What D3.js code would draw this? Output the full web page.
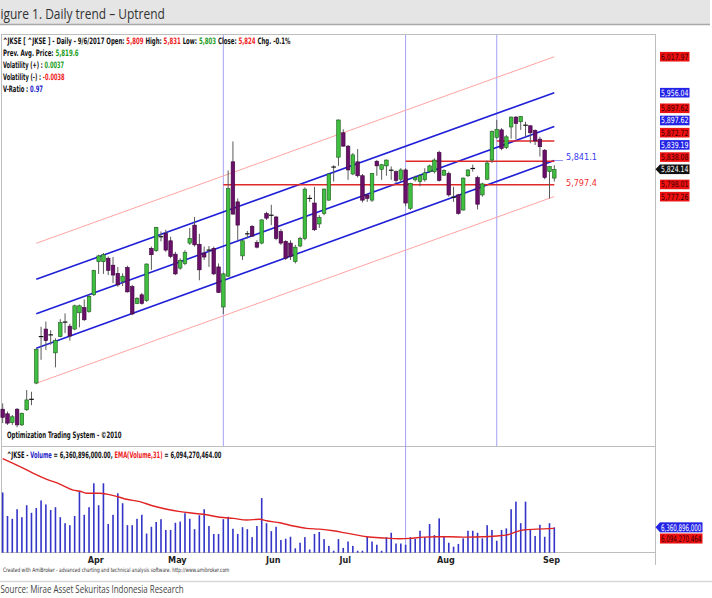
<!DOCTYPE html>
<html>
<head>
<meta charset="utf-8">
<script src="https://d3js.org/d3.v7.min.js"></script>
<style>
body { margin: 0; background: #fff; }
svg { display: block; }
</style>
</head>
<body>
<svg id="chart" width="712" height="598"></svg>
<script>

// daily candles, ^JKSE, early March -> 6 Sep 2017
var opens  = [5411,5403,5388,5411,5384,5410,5429,5456,5535,5549,5538,5508,5536,5560,5554,5549,5577,5586,5579,5608,
              5665,5665,5671,5659,5645,5631,5655,5622,5593,5608,5598,5688,5684,5707,5714,5701,5678,5654,5662,5697,
              5728,5695,5680,5684,5688,5656,5587,5640,5837,5768,5675,5712,5726,5698,5697,5748,5744,5742,5717,5700,
              5697,5665,5692,5705,5773,5766,5730,5748,5771,5827,5845,5887,5864,5816,5837,5813,5780,5771,5838,5824,
              5830,5823,5820,5807,5823,5757,5806,5803,5806,5820,5820,5853,5814,5817,5777,5780,5754,5813,5825,5810,
              5780,5807,5840,5879,5892,5862,5897,5914,5906,5901,5899,5891,5876,5857,5820,5809];
var highs  = [5421,5407,5401,5413,5405,5444,5441,5516,5553,5562,5547,5533,5566,5576,5558,5591,5591,5600,5609,5651,
              5677,5680,5674,5673,5656,5645,5658,5625,5604,5611,5662,5691,5725,5717,5720,5708,5682,5671,5685,5723,
              5742,5713,5691,5692,5691,5662,5646,5822,5872,5774,5702,5718,5728,5702,5738,5751,5763,5744,5721,5702,
              5702,5694,5708,5793,5780,5794,5745,5791,5817,5831,5910,5893,5866,5852,5859,5816,5782,5818,5840,5833,
              5841,5829,5822,5826,5826,5801,5813,5816,5826,5832,5843,5856,5824,5820,5794,5782,5810,5824,5832,5813,
              5801,5839,5891,5909,5895,5883,5915,5916,5916,5906,5900,5893,5880,5859,5830,5831];
var lows   = [5387,5384,5384,5380,5382,5408,5418,5454,5496,5513,5522,5483,5535,5542,5529,5547,5552,5563,5577,5606,
              5644,5644,5642,5628,5622,5623,5612,5573,5592,5591,5596,5651,5682,5700,5682,5671,5642,5651,5659,5694,
              5691,5633,5668,5656,5642,5611,5575,5639,5746,5702,5668,5705,5708,5688,5695,5737,5728,5702,5694,5668,
              5668,5662,5690,5702,5768,5718,5723,5745,5770,5803,5830,5863,5806,5814,5810,5767,5768,5768,5813,5806,
              5813,5806,5800,5803,5761,5754,5803,5795,5803,5818,5817,5803,5813,5777,5768,5746,5753,5811,5820,5755,
              5777,5806,5835,5877,5857,5859,5877,5876,5892,5880,5869,5866,5846,5807,5774,5803];
var closes = [5397,5387,5398,5384,5404,5427,5427,5514,5537,5529,5540,5529,5560,5562,5537,5589,5589,5565,5605,5650,
              5675,5677,5650,5642,5625,5640,5613,5575,5602,5593,5661,5677,5724,5709,5685,5674,5644,5667,5681,5705,
              5694,5651,5673,5686,5644,5612,5644,5791,5747,5728,5701,5714,5709,5690,5737,5740,5746,5705,5697,5671,
              5674,5690,5705,5790,5775,5720,5741,5790,5816,5829,5909,5864,5823,5849,5813,5771,5774,5817,5830,5832,
              5840,5822,5805,5823,5766,5800,5810,5813,5818,5830,5840,5805,5822,5780,5775,5748,5809,5823,5826,5764,
              5799,5835,5889,5893,5860,5880,5914,5903,5915,5899,5887,5873,5863,5810,5829,5824];

// volume, billions of shares
var volumes = [15.1,9.2,8.5,10.9,8.9,11.9,10.0,11.2,13.1,12.1,10.7,11.4,8.9,7.4,6.9,9.2,15.4,9.5,11.4,17.4,
               11.9,17.4,7.2,9.5,14.9,12.4,6.9,6.9,8.5,9.5,4.8,6.5,7.7,8.4,5.7,5.7,7.5,7.8,9.9,8.5,
               5.9,9.4,10.9,6.7,4.7,4.7,8.4,9.0,6.0,4.7,6.4,5.9,3.9,6.7,13.7,7.4,5.4,6.5,3.2,3.5,
               4.0,1.1,2.5,3.9,0.8,4.7,5.2,3.4,1.7,0.5,3.4,1.2,2.8,1.7,0.5,0.5,4.0,2.8,2.0,0.5,
               3.9,5.0,2.3,2.3,2.0,3.9,3.5,5.5,3.9,7.2,4.4,8.6,4.2,2.5,1.5,2.2,3.6,5.5,5.5,5.0,
               3.6,6.9,5.7,3.0,5.7,6.1,10.9,12.8,7.4,12.8,5.9,4.2,7.0,4.0,7.4,6.36];

// EMA(Volume,31), sampled along the red line
var emaIdx = [0,3.6,6.4,9.2,11.9,14.7,16.1,17.5,20.3,21.7,23.8,25.8,28.6,31.4,34.2,37,39.7,42.5,45.3,48.1,
              50.9,53.6,55,57.8,60.6,63.4,66.1,68.9,71.7,75.9,79.3,82.8,84.9,87.7,90.5,93.2,96.7,100.2,103,105,
              107.2,108.5,111.3,115];
var emaVal = [23.6,21.6,19.9,18.4,17.2,15.7,15.4,14.9,14.9,14.7,14.1,13.4,12.8,11.7,10.9,10.3,9.9,9.5,8.9,8.6,
              8.2,8.4,8.0,7.5,6.7,6.1,5.9,5.5,4.9,4.0,3.7,3.5,3.6,3.9,4.0,4.0,3.9,4.0,4.2,4.4,
              5.3,5.7,5.9,6.09];

var monthLabels = ['Apr','May','Jun','Jul','Aug','Sep'];
var monthIdx = [19,36,56,71,92,114];

// regression channel: upper 2sd, upper 1sd, mid, lower 1sd, lower 2sd
var chanStartIdx = 7, chanEndIdx = 115;
var chanStart = [5696.7,5634.7,5575.5,5515.9,5455.6];
var chanEnd   = [6017.97,5956.04,5897.62,5839.19,5777.26];
var chanKind  = ['outer','inner','inner','inner','outer'];

var levelPrice = [5797.4,5838.08,5872.72];
var levelFrom  = [46,84,103];
var markerIdx  = [46,84,103];

var axisValues = [6017.97,5956.04,5897.62,5897.62,5872.72,5839.19,5838.08,5824.14,5798.01,5777.26];
var axisKinds  = ['red','blue','red','blue','red','blue','red','last','red','red'];
var volLabelValues = [6.360896,6.094270464];
var volLabelText = ['6,360,896,000','6,094,270,464'];

var svg = d3.select('#chart');
var narrow = '"Liberation Sans Narrow","DejaVu Sans Condensed","Liberation Sans",Arial,sans-serif';
var RED = '#ee1d1d', GREEN = '#1f9e1f', BLUE = '#2424c8';

var n = closes.length;
var x = d3.scaleLinear().domain([0, 115]).range([2.7, 554.3]);
var y = d3.scaleLinear().domain([5345.9, 6057.1]).range([447, 34]);
var yv = d3.scaleLinear().domain([0, 26.5]).range([552.7, 447]);

// squeeze text horizontally to a measured span
function fit(t, x0, x1) {
  var w = t.node().getBBox().width;
  t.attr('x', 0).attr('transform', 'translate(' + x0 + ',0) scale(' + ((x1 - x0) / w) + ',1)');
  return t;
}
function multi(parts, x0, x1, yb, size, weight) {
  var t = svg.append('text').attr('y', yb)
    .style('font-family', narrow).style('font-size', size + 'px').style('font-weight', weight || 'bold');
  parts.forEach(function(p) { t.append('tspan').attr('fill', p[1]).text(p[0]); });
  return fit(t, x0, x1);
}

// title bar (the page this came from crops the leading "F")
svg.append('rect').attr('x', 0).attr('y', 0).attr('width', 710).attr('height', 24).attr('fill', '#e5e5e5');
svg.append('line').attr('x1', 0).attr('x2', 710).attr('y1', 24.5).attr('y2', 24.5).attr('stroke', '#a8a8a8').attr('stroke-width', 1.6);
var title = svg.append('text').attr('y', 19.5).attr('fill', '#333')
  .style('font-family', '"Open Sans","Noto Sans",sans-serif').style('font-size', '14.5px')
  .text('igure 1. Daily trend \u2013 Uptrend');
fit(title, 0.5, 165);

// frame
var frame = svg.append('g').attr('stroke', '#bdbdbd').attr('stroke-width', 1).attr('fill', 'none');
frame.append('line').attr('x1', 1).attr('x2', 655.5).attr('y1', 34.5).attr('y2', 34.5);
frame.append('line').attr('x1', 1.5).attr('x2', 1.5).attr('y1', 34).attr('y2', 553);
frame.append('line').attr('x1', 655.5).attr('x2', 655.5).attr('y1', 34).attr('y2', 565);
frame.append('line').attr('x1', 1).attr('x2', 655.5).attr('y1', 446.5).attr('y2', 446.5);
frame.append('line').attr('x1', 1).attr('x2', 655.5).attr('y1', 552.5).attr('y2', 552.5);

// vertical markers
markerIdx.forEach(function(m, k) {
  svg.append('line').attr('x1', x(m)).attr('x2', x(m))
    .attr('y1', 35).attr('y2', k == 1 ? 552 : 446)
    .attr('stroke', '#8c8cf0').attr('stroke-width', 0.8);
});

// channel
chanStart.forEach(function(s, k) {
  svg.append('line')
    .attr('x1', x(chanStartIdx)).attr('y1', y(s))
    .attr('x2', x(chanEndIdx)).attr('y2', y(chanEnd[k]))
    .attr('stroke', chanKind[k] == 'outer' ? '#ff9a9a' : '#2020d8')
    .attr('stroke-width', chanKind[k] == 'outer' ? 0.9 : 1.6);
});
svg.append('line').attr('x1', x(chanEndIdx)).attr('x2', 563).attr('y1', y(chanEnd[3])).attr('y2', y(chanEnd[3]))
  .attr('stroke', '#7a7af0').attr('stroke-width', 0.8);

// support / resistance levels
levelPrice.forEach(function(p, k) {
  svg.append('line').attr('x1', x(levelFrom[k])).attr('x2', x(115))
    .attr('y1', y(p)).attr('y2', y(p)).attr('stroke', '#e02828').attr('stroke-width', 1.6);
});

// candles
var candles = d3.range(n).map(function(i) {
  return {i: i, o: opens[i], h: highs[i], l: lows[i], c: closes[i]};
});
var cg = svg.append('g');
cg.selectAll('line.wick').data(candles).enter().append('line')
  .attr('x1', function(d) { return x(d.i); }).attr('x2', function(d) { return x(d.i); })
  .attr('y1', function(d) { return y(d.h); }).attr('y2', function(d) { return y(d.l); })
  .attr('stroke', '#5a5a5a').attr('stroke-width', 1);
cg.selectAll('rect.body').data(candles.filter(function(d) { return Math.abs(d.o - d.c) > 2.5; })).enter().append('rect')
  .attr('x', function(d) { return x(d.i) - 1.8; }).attr('width', 3.6)
  .attr('y', function(d) { return y(Math.max(d.o, d.c)); })
  .attr('height', function(d) { return Math.abs(y(d.o) - y(d.c)); })
  .attr('fill', function(d) { return d.c > d.o ? '#3fbf3f' : '#6a0f6a'; })
  .attr('stroke', function(d) { return d.c > d.o ? '#1f5a1f' : '#3a053a'; })
  .attr('stroke-width', 0.6);
cg.selectAll('line.doji').data(candles.filter(function(d) { return Math.abs(d.o - d.c) <= 2.5; })).enter().append('line')
  .attr('x1', function(d) { return x(d.i) - 2.3; }).attr('x2', function(d) { return x(d.i) + 2.3; })
  .attr('y1', function(d) { return y((d.o + d.c) / 2); }).attr('y2', function(d) { return y((d.o + d.c) / 2); })
  .attr('stroke', '#111').attr('stroke-width', 1.2);

// level captions
svg.append('text').attr('x', 566).attr('y', y(5841.1) + 1).attr('fill', '#3a3af0')
  .style('font-family', narrow).style('font-size', '9px').text('5,841.1');
svg.append('text').attr('x', 566).attr('y', y(5797.4) + 1).attr('fill', '#f03030')
  .style('font-family', narrow).style('font-size', '9px').text('5,797.4');

// right-hand value tags, pushed apart around the last price
var tagY = axisValues.map(function(v) { return y(v); });
var last = axisKinds.indexOf('last');
for (var k = last - 1; k >= 0; k--) tagY[k] = Math.min(tagY[k], tagY[k + 1] - 12.2);
for (var k = last + 1; k < tagY.length; k++) tagY[k] = Math.max(tagY[k], tagY[k - 1] + 12.2);
var fills = {red: '#ee1111', blue: '#2323e6', last: '#111'};
var inks = {red: '#3a0000', blue: '#fff', last: '#fff'};
axisValues.forEach(function(v, k) {
  var kind = axisKinds[k];
  svg.append('rect').attr('x', 660).attr('y', tagY[k] - 4.8).attr('width', 29.5).attr('height', 9.6).attr('fill', fills[kind]);
  if (kind == 'last') {
    svg.append('path').attr('d', 'M660,' + (tagY[k] - 4.8) + 'L655.5,' + tagY[k] + 'L660,' + (tagY[k] + 4.8) + 'Z').attr('fill', fills[kind]);
  }
  var t = svg.append('text').attr('y', tagY[k] + 3).attr('fill', inks[kind])
    .style('font-family', narrow).style('font-size', '8.5px').text(d3.format(',.2f')(v));
  fit(t, 661, 688.5);
});

// header
multi([['^JKSE [ ^JKSE ] - Daily - 9/6/2017 Open: ', '#111'], ['5,809', RED], [' High: ', '#111'], ['5,831', RED],
       [' Low: ', '#111'], ['5,803', GREEN], [' Close: ', '#111'], ['5,824', RED], [' Chg. -0.1%', '#111']], 3, 291, 44.5, 8.8);
multi([['Prev. Avg. Price: ', '#111'], ['5,819.6', GREEN]], 3, 79, 56, 8.8);
multi([['Volatility (+) : ', '#111'], ['0.0037', GREEN]], 3, 64, 68, 8.8);
multi([['Volatility (-) : ', '#111'], ['-0.0038', RED]], 3, 65, 80, 8.8);
multi([['V-Ratio : ', '#111'], ['0.97', BLUE]], 3, 43, 92, 8.8);
multi([['Optimization Trading System - \u00a92010', '#111']], 7, 122, 438, 8.8);

// volume pane
multi([['^JKSE - ', '#111'], ['Volume', BLUE], [' = 6,360,896,000.00, ', '#111'], ['EMA(Volume,31)', RED],
       [' = 6,094,270,464.00', '#111']], 7, 222, 458, 8.8);
svg.append('g').selectAll('rect').data(volumes).enter().append('rect')
  .attr('x', function(d, i) { return x(i) - 0.8; }).attr('width', 1.6)
  .attr('y', function(d) { return yv(d); })
  .attr('height', function(d) { return yv(0) - yv(d); })
  .attr('fill', '#3434c8');
var ema = d3.line().x(function(d) { return x(d[0]); }).y(function(d) { return yv(d[1]); }).curve(d3.curveMonotoneX);
svg.append('path').attr('d', ema(emaIdx.map(function(v, k) { return [v, emaVal[k]]; })))
  .attr('fill', 'none').attr('stroke', '#e02424').attr('stroke-width', 1.4);

var vy0 = yv(volLabelValues[0]);
var vys = [vy0, Math.max(yv(volLabelValues[1]), vy0 + 11.2)];
['#2323e6', '#ee1111'].forEach(function(c, k) {
  svg.append('rect').attr('x', 660).attr('y', vys[k] - 5).attr('width', 42.5).attr('height', 10).attr('fill', c);
  if (k == 0) svg.append('path').attr('d', 'M660,' + (vys[k] - 5) + 'L655.5,' + vys[k] + 'L660,' + (vys[k] + 5) + 'Z').attr('fill', c);
  var t = svg.append('text').attr('y', vys[k] + 3.2).attr('fill', k == 0 ? '#fff' : '#3a0000')
    .style('font-family', narrow).style('font-size', '9px').text(volLabelText[k]);
  fit(t, 661, 701.5);
});

// month axis
monthLabels.forEach(function(m, k) {
  svg.append('text').attr('x', x(monthIdx[k]) + 2).attr('y', 563).attr('text-anchor', 'middle')
    .attr('fill', '#222').style('font-family', narrow).style('font-size', '9px').style('font-weight', 'bold').text(m);
});

multi([['Created with AmiBroker - advanced charting and technical analysis software. http://www.amibroker.com', '#333']], 3, 230, 572, 6, 'normal');

// source
svg.append('line').attr('x1', 0).attr('x2', 712).attr('y1', 581.5).attr('y2', 581.5).attr('stroke', '#d8d8d8').attr('stroke-width', 1.4);
var src = svg.append('text').attr('y', 593).attr('fill', '#444')
  .style('font-family', '"Open Sans","Noto Sans",sans-serif').style('font-size', '11px')
  .text('Source: Mirae Asset Sekuritas Indonesia Research');
fit(src, 0.5, 184);

</script>
</body>
</html>
